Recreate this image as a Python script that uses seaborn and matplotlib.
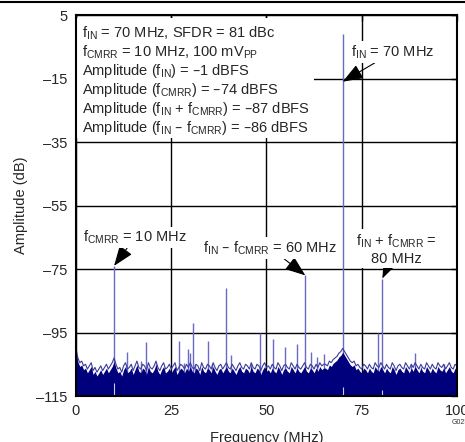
import matplotlib
matplotlib.use("Agg")
import matplotlib.pyplot as plt
from matplotlib.lines import Line2D
from matplotlib.patches import Rectangle
import seaborn as sns
import numpy as np

sns.set_style("white")
plt.rcParams['font.family'] = ['Liberation Sans', 'DejaVu Sans']
plt.rcParams['mathtext.default'] = 'regular'

# noise floor, read every 0.5 MHz (dB)
noise_step = 0.5
noise_db = [
    -100, -103, -104.5, -104, -105.5, -105, -106.5, -105.5, -104.5, -107, -106,
    -107.5, -106.5, -105.5, -107, -106, -105, -106.5, -105.5, -104.5, -103,
    -105, -106.5, -106, -107.5, -105.5, -104.5, -106.5, -106, -105, -107,
    -105.5, -104, -106, -106.5, -105, -105.5, -107, -104.5, -106, -106.5,
    -105.5, -104, -106, -107, -105.5, -104.5, -106.5, -106, -105, -106.5,
    -105.5, -104.5, -107, -106, -105, -105.5, -106.5, -105, -106, -104.5,
    -106, -106.5, -105, -105.5, -107, -104.5, -106, -106.5, -105, -105.5,
    -106.5, -104.5, -106, -107, -105.5, -105, -106.5, -105.5, -104.5, -106,
    -106.5, -105, -106, -107, -105.5, -104.5, -106, -106.5, -105, -105.5,
    -106.5, -104.5, -106, -106.5, -105, -105.5, -107, -105.5, -104.5, -106,
    -105.5, -106.5, -105, -106, -106.5, -104.5, -105.5, -107, -105.5, -105,
    -106, -106.5, -104.5, -105.5, -106.5, -105, -106, -106.5, -105.5, -104.5,
    -106, -106.5, -105, -105.5, -106.5, -105, -106, -104.5, -105.5, -105,
    -105, -105.5, -104, -104.5, -103.5, -103, -102.5, -101.5, -101, -100,
    -101, -102, -103, -104, -104.5, -104, -105.5, -105, -106, -106.5,
    -105, -105.5, -106.5, -105, -106, -106.5, -104.5, -105.5, -106, -104.5,
    -105.5, -106.5, -105, -106, -106.5, -104.5, -105.5, -107, -105.5, -105,
    -106, -106.5, -104.5, -105.5, -106.5, -105, -106, -104.5, -105.5, -106.5,
    -105, -106, -106.5, -104.5, -105.5, -106.5, -105, -106, -106.5, -104.5,
    -105.5, -106, -105, -106.5, -105.5, -104.5, -106, -106.5, -105, -105.5,
]
noise_freq = np.arange(len(noise_db)) * noise_step

# spurs (MHz, dB)
spur_freq = [10.0, 13.4, 17.0, 18.3, 21.0, 27.0, 28.4, 29.5, 30.0, 30.7, 31.3,
             34.6, 35.8, 39.5, 40.8, 46.0, 48.2, 51.8, 54.9, 58.0, 60.2, 61.8,
             63.3, 65.0, 70.0, 79.2, 80.4, 88.0, 89.1, 90.5, 96.5]
spur_db = [-74, -101, -104, -98, -105, -97.7, -104.5, -100.3, -101.5, -92, -105,
           -97.7, -105, -81, -102.2, -104.5, -95, -97, -99.6, -98.7, -77, -101,
           -102.8, -101.8, -1, -95, -78, -105, -101.6, -106, -104.8]
notch_freq = [10.0, 70.0, 80.4]
notch_db = [-111, -112, -113]

navy = '#00007c'
bottom = -115

fig = plt.figure(figsize=(4.65, 4.42), dpi=100)
ax = fig.add_axes([0.1634, 0.104, 0.8194, 0.862])

sns.lineplot(x=noise_freq, y=noise_db, ax=ax, color='#3a3aa0', lw=0.8, zorder=3)
ax.fill_between(noise_freq, np.array(noise_db) - 1.2, bottom, color=navy, lw=0, zorder=3.1)
ax.vlines(spur_freq, bottom, spur_db, color='#6a6ac4', lw=1.0, zorder=2.8)
ax.vlines(notch_freq, bottom, notch_db, color='white', lw=0.8, alpha=0.8, zorder=3.2)

ax.set_xlim(0, 100)
ax.set_ylim(-115, 5)
ax.set_xticks([0, 25, 50, 75, 100])
ax.set_yticks([5, -15, -35, -55, -75, -95, -115])
ax.set_yticklabels(['5', '–15', '–35', '–55', '–75', '–95', '–115'])
ax.tick_params(labelsize=10.5, direction='in', length=4, width=1, color='black',
               top=True, right=True, pad=6)
ax.grid(True, color='black', lw=1)
ax.set_axisbelow(True)
for s in ax.spines.values():
    s.set_color('black')
    s.set_linewidth(1.5)
    s.set_zorder(5)

ax.set_xlabel('Frequency (MHz)', fontsize=10.5, labelpad=9)
ax.set_ylabel('Amplitude (dB)', fontsize=10.5, labelpad=6)

# white box behind the condition text
ax.add_patch(Rectangle((0, -33.8), 62.4, 37.9, fc='white', ec='none', zorder=1))
lines = [
    'f$_{IN}$ = 70 MHz, SFDR = 81 dBc',
    'f$_{CMRR}$ = 10 MHz, 100 mV$_{PP}$',
    'Amplitude (f$_{IN}$) = –1 dBFS',
    'Amplitude (f$_{CMRR}$) = –74 dBFS',
    'Amplitude (f$_{IN}$ + f$_{CMRR}$) = –87 dBFS',
    'Amplitude (f$_{IN}$ – f$_{CMRR}$) = –86 dBFS',
]
for i, t in enumerate(lines):
    ax.text(1.5, -0.7 - 6.0 * i, t, fontsize=10.5, ha='left', va='center', zorder=4)

arrow = dict(arrowstyle='-|>,head_length=1.2,head_width=0.45', color='black',
             lw=0.8, shrinkA=0, shrinkB=0)
box = dict(fc='white', ec='none', pad=1.5)
ax.annotate('f$_{CMRR}$ = 10 MHz', xy=(10, -74), xytext=(15.5, -65),
            fontsize=10.5, ha='center', va='center', bbox=box, arrowprops=arrow, zorder=4)
ax.annotate('f$_{IN}$ – f$_{CMRR}$ = 60 MHz', xy=(60.2, -77), xytext=(51, -68.4),
            fontsize=10.5, ha='center', va='center', bbox=box, arrowprops=arrow, zorder=4)
ax.annotate('f$_{IN}$ + f$_{CMRR}$ =\n80 MHz', xy=(80.4, -78), xytext=(84, -68.7),
            fontsize=10.5, ha='center', va='center', bbox=box, arrowprops=arrow, zorder=4)
ax.annotate('f$_{IN}$ = 70 MHz', xy=(70, -16), xytext=(83.2, -6.7),
            fontsize=10.5, ha='center', va='center', bbox=box, arrowprops=arrow, zorder=4)

fig.add_artist(Line2D([0, 1], [0.995, 0.995], color='black', lw=1.5))
fig.text(452 / 465, 1 - 423 / 442, 'G025', fontsize=5, ha='left', va='center', color='#333333')

fig.savefig('out.png', dpi=100)
